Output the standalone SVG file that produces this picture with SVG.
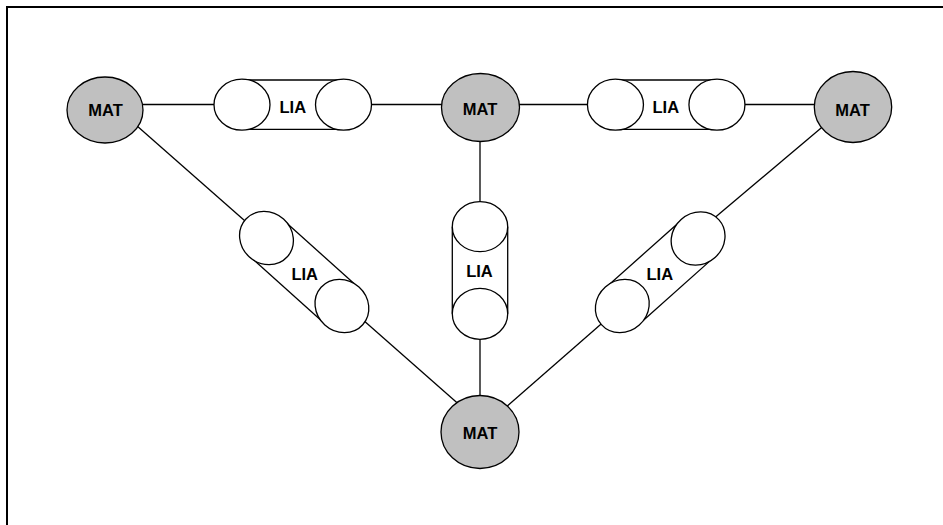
<svg xmlns="http://www.w3.org/2000/svg" xmlns:xlink="http://www.w3.org/1999/xlink" width="943" height="525" viewBox="0 0 943 525">
  <style>
    .frame { fill: none; stroke: #000; stroke-width: 2; }
    .edge { stroke: #000; stroke-width: 1.3; fill: none; }
    .mat { fill: #c0c0c0; stroke: #000; stroke-width: 1.3; }
    .cap { fill: #fff; stroke: #000; stroke-width: 1.3; }
    .body { fill: #fff; stroke: none; }
    .side { stroke: #000; stroke-width: 1.3; }
    .lbl { font-family: "Liberation Sans", Arial, sans-serif; font-weight: bold; font-size: 16.5px; text-anchor: middle; fill: #000; }
  </style>
  <defs>
    <g id="cyl">
      <rect class="body" x="-50.75" y="-24.7" width="101.5" height="49.4"/>
      <line class="side" x1="-50.75" y1="-24.7" x2="50.75" y2="-24.7"/>
      <line class="side" x1="-50.75" y1="24.7" x2="50.75" y2="24.7"/>
      <ellipse class="cap" cx="-50.75" cy="0" rx="28" ry="25.5"/>
      <ellipse class="cap" cx="50.75" cy="0" rx="28" ry="25.5"/>
    </g>
  </defs>
  <rect class="frame" x="7" y="7" width="1000" height="1000"/>
  <g id="connectors">
    <line class="edge" x1="130" y1="104.5" x2="230" y2="104.5"/>
    <line class="edge" x1="330" y1="104.5" x2="460" y2="104.5"/>
    <line class="edge" x1="500" y1="104.5" x2="600" y2="104.5"/>
    <line class="edge" x1="730" y1="104.5" x2="830" y2="104.5"/>
    <line class="edge" x1="128" y1="118" x2="253" y2="228"/>
    <line class="edge" x1="354" y1="312" x2="463" y2="408"/>
    <line class="edge" x1="480" y1="130" x2="480" y2="215"/>
    <line class="edge" x1="480" y1="325" x2="480" y2="420"/>
    <line class="edge" x1="830" y1="120.5" x2="712" y2="220"/>
    <line class="edge" x1="608" y1="318" x2="501" y2="411.5"/>
  </g>
  <g id="mat-top-left">
    <ellipse class="mat" cx="105" cy="110" rx="38" ry="33"/>
    <text class="lbl" x="105.5" y="116.2">MAT</text>
  </g>
  <g id="mat-top-middle">
    <ellipse class="mat" cx="480.5" cy="107.5" rx="39" ry="34"/>
    <text class="lbl" x="480" y="115.2">MAT</text>
  </g>
  <g id="mat-top-right">
    <ellipse class="mat" cx="853" cy="107" rx="38.7" ry="35.5"/>
    <text class="lbl" x="852.5" y="115.5">MAT</text>
  </g>
  <g id="mat-bottom">
    <ellipse class="mat" cx="480" cy="432" rx="39" ry="36.5"/>
    <text class="lbl" x="480" y="439">MAT</text>
  </g>
  <g id="lia-top-left">
    <use xlink:href="#cyl" transform="translate(292.75,104.7)"/>
    <text class="lbl" x="292.8" y="112.5">LIA</text>
  </g>
  <g id="lia-top-right">
    <use xlink:href="#cyl" transform="translate(666.2,104.7)"/>
    <text class="lbl" x="665.8" y="112.7">LIA</text>
  </g>
  <g id="lia-left-diag">
    <use xlink:href="#cyl" transform="translate(304.2,272) rotate(42)"/>
    <text class="lbl" x="304.7" y="279.5">LIA</text>
  </g>
  <g id="lia-right-diag">
    <use xlink:href="#cyl" transform="translate(660.2,272.2) rotate(-41.7)"/>
    <text class="lbl" x="659.8" y="279.5">LIA</text>
  </g>
  <g id="lia-vertical">
    <rect class="body" x="452.3" y="226.7" width="55.4" height="87.1"/>
    <line class="side" x1="452.3" y1="226.7" x2="452.3" y2="313.8"/>
    <line class="side" x1="507.7" y1="226.7" x2="507.7" y2="313.8"/>
    <ellipse class="cap" cx="480" cy="226.7" rx="27.7" ry="25"/>
    <ellipse class="cap" cx="480" cy="313.8" rx="27.7" ry="25.5"/>
    <text class="lbl" x="479.5" y="277.2">LIA</text>
  </g>
</svg>
